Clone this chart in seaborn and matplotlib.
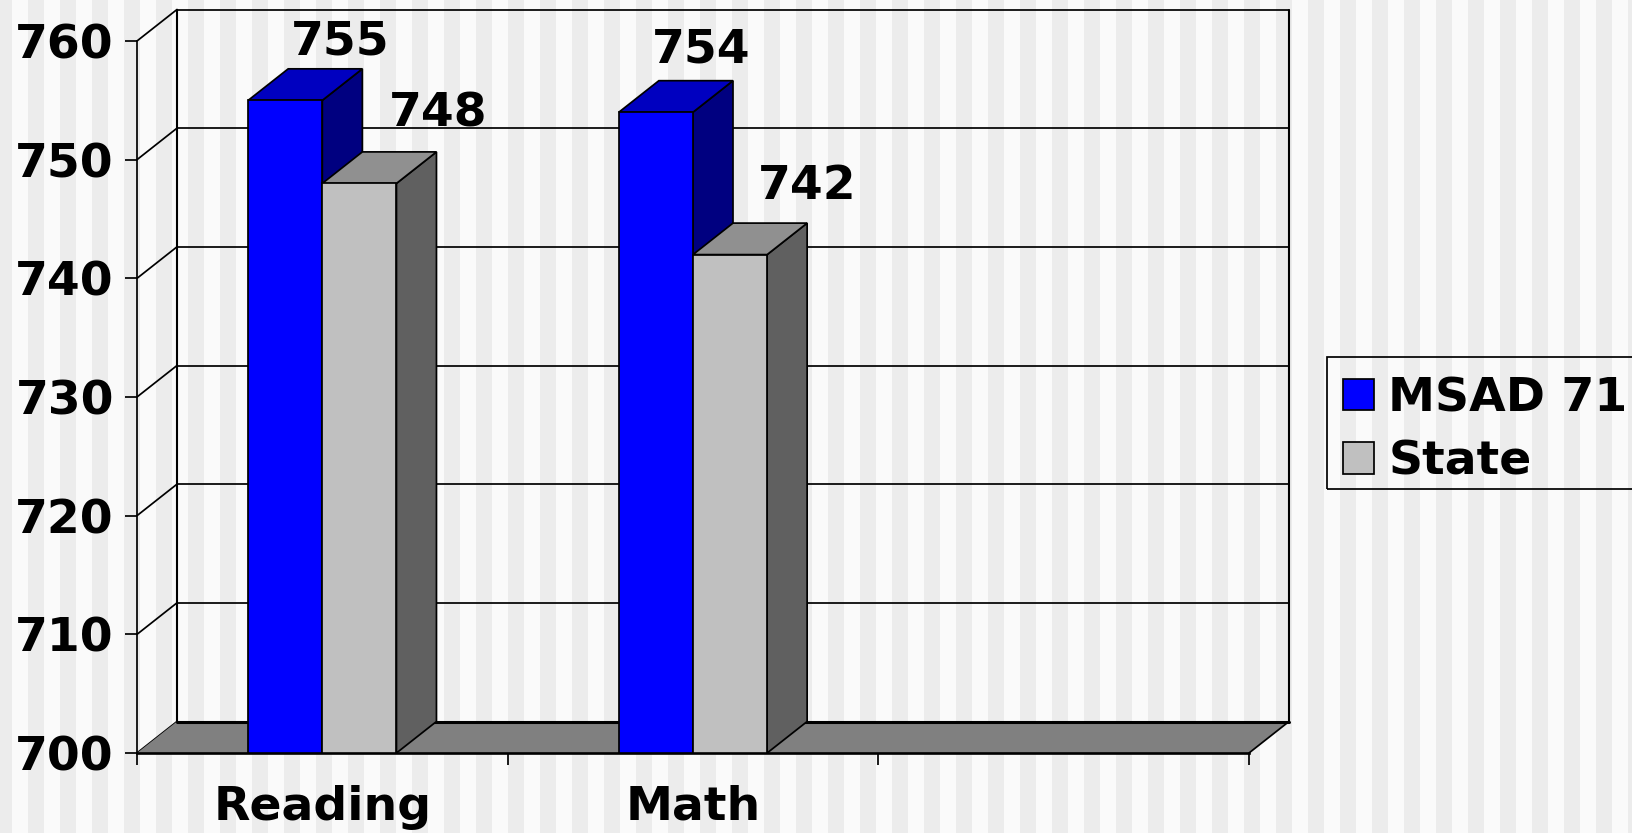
import matplotlib
matplotlib.use("Agg")
import matplotlib.pyplot as plt
from matplotlib.patches import Polygon, Rectangle
import pandas as pd
import seaborn as sns

categories = ["Reading", "Math"]
slots = ["Reading", "Math", ""]
series_names = ["MSAD 71", "State"]
msad_values = [755, 754]
state_values = [748, 742]
y_ticks = [700, 710, 720, 730, 740, 750, 760]

front_colors = ["#0000ff", "#c0c0c0"]
top_colors = ["#0000c0", "#909090"]
side_colors = ["#000080", "#606060"]
# offset of each value label from the back top of its bar, in points
label_offsets = [(11, 10), (28, 18), (4, 13), (27, 17)]

W, H = 1632, 833
FS = 34
LW = 1.25

sns.set_theme(style="white", rc={"font.family": "DejaVu Sans", "font.weight": "bold",
                                 "text.color": "black"})
fig = plt.figure(figsize=(W / 100, H / 100), dpi=100, facecolor="#ececec")

# striped slide background
bg = fig.add_axes([0, 0, 1, 1], zorder=-1)
bg.set_xlim(0, W)
bg.axis("off")
for x in range(12, W, 32):
    bg.axvspan(x, x + 15.5, color="#fafafa", lw=0)

ax = fig.add_axes([137 / W, (H - 753) / H, 1112 / W, 712 / H])
ax.patch.set_visible(False)

df = pd.DataFrame({
    "subject": categories * 2,
    "group": [series_names[0]] * 2 + [series_names[1]] * 2,
    "score": msad_values + state_values,
})
sns.barplot(data=df, x="subject", y="score", hue="group", order=slots,
            hue_order=series_names, palette=front_colors, width=0.4, gap=0,
            edgecolor="black", linewidth=LW, saturation=1, errorbar=None, ax=ax)
ax.set_xlim(-0.5, 2.5)
ax.set_ylim(700, 760)
ax.set_xlabel("")
ax.set_ylabel("")

# depth of the fake 3D box, in data units
dx = 40 / (1112 / 3)
dy = 31.5 / (712 / 60)

# back wall, grid and floor
for t in y_ticks:
    ax.plot([-0.5, -0.5 + dx], [t, t + dy], color="black", lw=LW, clip_on=False, zorder=0.4)
    ax.plot([-0.5 + dx, 2.5 + dx], [t + dy, t + dy], color="black", lw=LW, clip_on=False, zorder=0.4)
ax.plot([-0.5 + dx, -0.5 + dx], [700 + dy, 760 + dy], color="black", lw=1.5, clip_on=False, zorder=0.4)
ax.plot([2.5 + dx, 2.5 + dx], [700 + dy, 760 + dy], color="black", lw=1.5, clip_on=False, zorder=0.4)
ax.add_patch(Polygon([(-0.5, 700), (2.5, 700), (2.5 + dx, 700 + dy), (-0.5 + dx, 700 + dy)],
                     fc="#808080", ec="none", clip_on=False, zorder=0.5))
ax.plot([-0.5 + dx, 2.5 + dx], [700 + dy, 700 + dy], color="black", lw=2.2, clip_on=False, zorder=0.55)
ax.plot([2.5, 2.5 + dx], [700, 700 + dy], color="black", lw=LW, clip_on=False, zorder=0.55)

# side and top faces of the bars
value_labels = []
for i, container in enumerate(ax.containers):
    for bar in container:
        h = bar.get_height()
        if not h == h:
            continue
        x0, x1 = bar.get_x(), bar.get_x() + bar.get_width()
        y0, y1 = 700, bar.get_y() + h
        z = 0.8 + i / 10
        ax.add_patch(Polygon([(x1, y0), (x1 + dx, y0 + dy), (x1 + dx, y1 + dy), (x1, y1)],
                             fc=side_colors[i], ec="black", lw=LW, clip_on=False, zorder=z))
        ax.add_patch(Polygon([(x0, y1), (x1, y1), (x1 + dx, y1 + dy), (x0 + dx, y1 + dy)],
                             fc=top_colors[i], ec="black", lw=LW, clip_on=False, zorder=z))
        value_labels.append(((x0 + x1) / 2 + dx, y1 + dy, f"{h:.0f}"))

value_labels.sort(key=lambda v: v[0])
for (x, y, txt), off in zip(value_labels, label_offsets):
    ax.annotate(txt, (x, y), xytext=off, textcoords="offset points", ha="center", va="baseline",
                fontsize=FS, fontweight="bold", color="black", annotation_clip=False, zorder=5)

# axes
sns.despine(ax=ax, top=True, right=True)
for s in ["left", "bottom"]:
    ax.spines[s].set_color("black")
    ax.spines[s].set_linewidth(LW)
ax.spines["bottom"].set_linewidth(1.9)
ax.spines["bottom"].set_zorder(3)
ax.set_yticks(y_ticks)
ax.set_xticks([-0.5, 0.5, 1.5, 2.5])
ax.set_xticklabels([])
ax.set_xticks([0, 1, 2], labels=slots, minor=True)
ax.tick_params(axis="both", which="major", left=True, bottom=True, length=8.6, width=LW, color="black")
ax.tick_params(axis="y", labelsize=FS, pad=8, labelcolor="black")
ax.tick_params(axis="x", which="minor", bottom=False, length=0, labelsize=FS, pad=23, labelcolor="black")

# legend, its box runs off the right edge of the slide
sns.move_legend(ax, "upper left", bbox_to_anchor=(1343 / W, (H - 376) / H),
                bbox_transform=fig.transFigure, title=None, frameon=False, fontsize=FS,
                borderpad=0, borderaxespad=0, handlelength=0.66, handleheight=0.66,
                handletextpad=0.3, labelspacing=0.4, labelcolor="black")
fig.add_artist(Rectangle((1327 / W, (H - 489) / H), 400 / W, 132 / H, transform=fig.transFigure,
                         fill=False, ec="black", lw=LW))

fig.savefig("out.png", dpi=100, facecolor=fig.get_facecolor())
